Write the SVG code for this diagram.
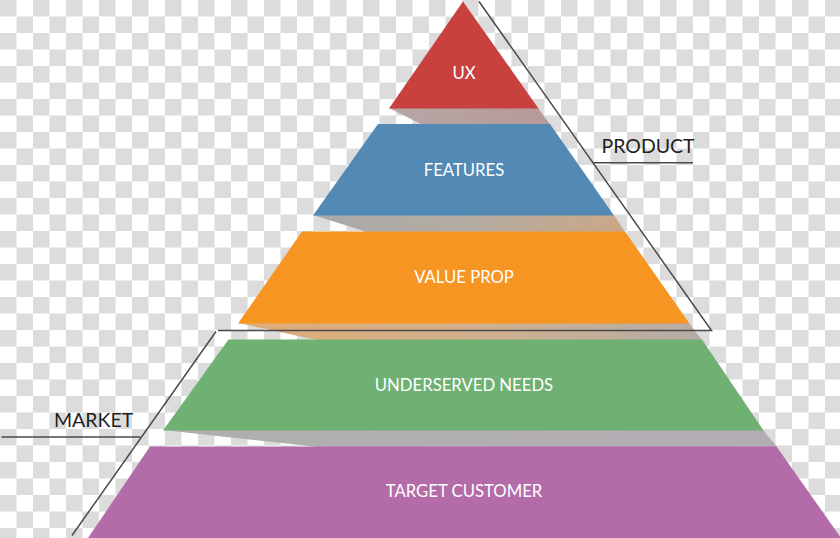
<svg xmlns="http://www.w3.org/2000/svg" width="840" height="538" viewBox="0 0 840 538">
  <defs>
    <pattern id="checker" patternUnits="userSpaceOnUse" width="33" height="33">
      <rect width="33" height="33" fill="#ffffff"/>
      <rect x="0" y="0" width="16.5" height="16.5" fill="#dcdcdc"/>
      <rect x="16.5" y="16.5" width="16.5" height="16.5" fill="#dcdcdc"/>
    </pattern>
    <linearGradient id="sh1" x1="0" y1="0" x2="1" y2="0">
      <stop offset="0" stop-color="#b7a6a6"/>
      <stop offset="1" stop-color="#b79a9a"/>
    </linearGradient>
    <linearGradient id="sh2" x1="0" y1="0" x2="1" y2="0">
      <stop offset="0" stop-color="#a9a9a9"/>
      <stop offset="0.5" stop-color="#b4aca2"/>
      <stop offset="1" stop-color="#cba886"/>
    </linearGradient>
    <linearGradient id="sh3" x1="0" y1="0" x2="1" y2="0">
      <stop offset="0" stop-color="#e0ac76"/>
      <stop offset="0.5" stop-color="#d2b08e"/>
      <stop offset="1" stop-color="#b5aca6"/>
    </linearGradient>
    <linearGradient id="sh4" x1="0" y1="0" x2="1" y2="0">
      <stop offset="0" stop-color="#afafaf"/>
      <stop offset="1" stop-color="#b3adb3"/>
    </linearGradient>
  </defs>
  <style>
    .lbl { font-family: Lato, "Open Sans", "Liberation Sans", sans-serif; font-size: 16.7px; fill: #ffffff; text-anchor: middle; }
    .side { font-family: Lato, "Open Sans", "Liberation Sans", sans-serif; font-size: 19.5px; fill: #1e1e1e; }
    .ln { fill: none; stroke: #4a4a4a; stroke-width: 1.5; }
  </style>

  <rect id="background" x="0" y="0" width="840" height="538" fill="url(#checker)"/>

  <g id="shadows">
    <polygon points="389,108 538,108 550,124.5 422,124.5" fill="url(#sh1)"/>
    <polygon points="313,215 614,215 625,232 367,232" fill="url(#sh2)"/>
    <polygon points="238,323 689,323 702,340 317,340" fill="url(#sh3)"/>
    <polygon points="163,430 763,430 777,447 318,447" fill="url(#sh4)"/>
  </g>

  <g id="ux">
    <polygon points="463,1.5 538.5,108.5 389,108.5" fill="#c8413f"/>
    <text class="lbl" x="464" y="79">UX</text>
  </g>
  <g id="features">
    <polygon points="378,124 550,124 614,215.5 313,215.5" fill="#5289b5"/>
    <text class="lbl" x="464" y="176">FEATURES</text>
  </g>
  <g id="value-prop">
    <polygon points="302,231.5 625,231.5 689.5,323.5 238,323.5" fill="#f69521"/>
    <text class="lbl" x="464" y="283.3">VALUE PROP</text>
  </g>
  <g id="underserved-needs">
    <polygon points="228.5,339.5 702,339.5 763.5,430.5 163,430.5" fill="#6fb173"/>
    <text class="lbl" x="464" y="390.7">UNDERSERVED NEEDS</text>
  </g>
  <g id="target-customer">
    <polygon points="150,446.5 776.5,446.5 841,538 88,538" fill="#b46ca9"/>
    <text class="lbl" x="464" y="497.3">TARGET CUSTOMER</text>
  </g>

  <g id="connectors">
    <polyline class="ln" points="479,1.5 711.5,330.5 218,330.5"/>
    <line class="ln" x1="216" y1="331.5" x2="72" y2="535.5"/>
    <line class="ln" x1="593" y1="162.7" x2="693" y2="162.7"/>
    <line class="ln" x1="1.5" y1="437" x2="140.5" y2="437"/>
  </g>

  <g id="product-label">
    <text class="side" x="601.5" y="153.3">PRODUCT</text>
  </g>
  <g id="market-label">
    <text class="side" x="54" y="427.3">MARKET</text>
  </g>
</svg>
